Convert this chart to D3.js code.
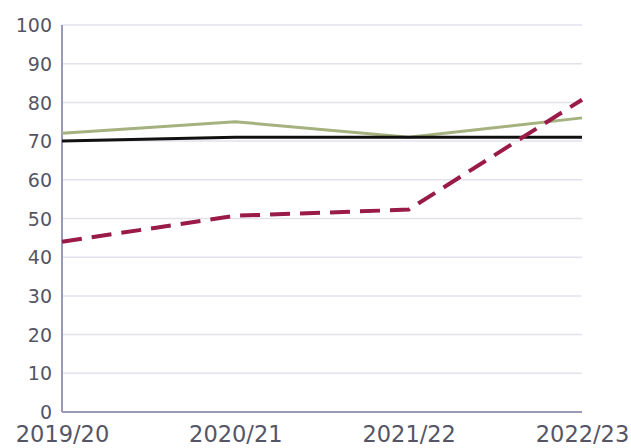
<!DOCTYPE html>
<html>
<head>
<meta charset="utf-8">
<script src="https://cdn.jsdelivr.net/npm/d3@7"></script>
<style>
  body { margin: 0; background: #fff; }
  text { font-family: "DejaVu Sans", sans-serif; fill: #555566; }
</style>
</head>
<body>
<div id="chart"></div>
<script>
// data
const years = ["2019/20", "2020/21", "2021/22", "2022/23"];
const greenValues = [72, 75, 71, 76];
const blackValues = [70, 71, 71, 71];
const dashedValues = [44, 50.7, 52.3, 80.7];
const yTicks = [0, 10, 20, 30, 40, 50, 60, 70, 80, 90, 100];

var margin = {top: 25, right: 49, bottom: 36, left: 62},
    width = 631 - margin.left - margin.right,
    height = 448 - margin.top - margin.bottom;

const svg = d3.select("#chart")
  .append("svg")
  .attr("width", width + margin.left + margin.right)
  .attr("height", height + margin.top + margin.bottom)
  .append("g")
  .attr("transform", "translate(" + margin.left + "," + margin.top + ")");

var x = d3.scalePoint().domain(years).range([0, width]);
var y = d3.scaleLinear().domain([0, 100]).range([height, 0]);

// gridlines
svg.append("g")
  .selectAll("line")
  .data(yTicks.filter(d => d > 0))
  .enter()
  .append("line")
  .attr("x1", 0)
  .attr("x2", width)
  .attr("y1", d => y(d))
  .attr("y2", d => y(d))
  .attr("stroke", "#e2e2ec")
  .attr("stroke-width", 1.5);

// y axis
const yAxis = svg.append("g")
  .call(d3.axisLeft(y).tickValues(yTicks).tickSize(0).tickPadding(10));
yAxis.select(".domain").remove();
yAxis.selectAll("text")
  .style("font-size", "19px")
  .attr("dy", "0.35em");

// x axis
const xAxis = svg.append("g")
  .attr("transform", "translate(0," + height + ")")
  .call(d3.axisBottom(x).tickSize(0).tickPadding(14));
xAxis.select(".domain").remove();
xAxis.selectAll("text")
  .style("font-size", "22.5px");

// axis lines
svg.append("line")
  .attr("x1", 0).attr("x2", 0)
  .attr("y1", 0).attr("y2", height)
  .attr("stroke", "#9a9ab8")
  .attr("stroke-width", 2);
svg.append("line")
  .attr("x1", 0).attr("x2", width)
  .attr("y1", height).attr("y2", height)
  .attr("stroke", "#9a9ab8")
  .attr("stroke-width", 2);

var line = d3.line()
  .x((d, i) => x(years[i]))
  .y(d => y(d));

svg.append("path")
  .datum(greenValues)
  .attr("fill", "none")
  .attr("stroke", "#a3b27e")
  .attr("stroke-width", 3)
  .attr("d", line);

svg.append("path")
  .datum(blackValues)
  .attr("fill", "none")
  .attr("stroke", "#111111")
  .attr("stroke-width", 3)
  .attr("d", line);

svg.append("path")
  .datum(dashedValues)
  .attr("fill", "none")
  .attr("stroke", "#9a1a48")
  .attr("stroke-width", 4)
  .attr("stroke-dasharray", "20,10")
  .attr("d", line);
</script>
</body>
</html>
